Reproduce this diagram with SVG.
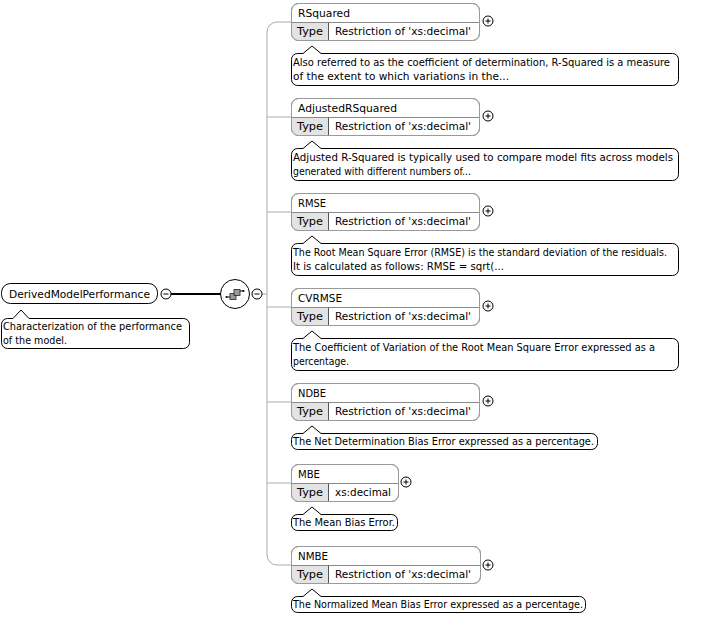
<svg xmlns="http://www.w3.org/2000/svg" width="701" height="620" viewBox="0 0 701 620">
<defs>
<style>
text{font-family:"DejaVu Sans","Liberation Sans",Arial,sans-serif;font-size:10.5px;fill:#000}
.box{fill:#fff;stroke:#9a9a9a;stroke-width:1}
.ol{fill:none;stroke:#9a9a9a;stroke-width:1}
.tcell{fill:#e3e3e3;stroke:none}
.sep{stroke:#8a8a8a;stroke-width:1}
.div{stroke:#555;stroke-width:1}
.doc{fill:#fff;stroke:#000;stroke-width:1}
.conn{fill:none;stroke:#aaaaaa;stroke-width:1}
.pm{fill:#fff;stroke:#000;stroke-width:1}
.pml{stroke:#000;stroke-width:1}
</style>
<g id="plus"><circle class="pm" cx="0" cy="0" r="5"/><line class="pml" x1="-2.5" y1="0" x2="2.5" y2="0"/><line class="pml" x1="0" y1="-2.5" x2="0" y2="2.5"/></g>
<g id="minus"><circle class="pm" cx="0" cy="0" r="5"/><line class="pml" x1="-2.5" y1="0" x2="2.5" y2="0"/></g>
</defs>
<rect width="701" height="620" fill="#fff"/>

<g id="connectors">
<line x1="171" y1="294" x2="221" y2="294" stroke="#000" stroke-width="2"/>
<line class="conn" x1="262" y1="294" x2="267" y2="294"/>
<path class="conn" d="M291 22 H277 A10 10 0 0 0 267 32 V555 A10 10 0 0 0 277 565 H291"/>
<line class="conn" x1="267" y1="117" x2="291" y2="117"/>
<line class="conn" x1="267" y1="212" x2="291" y2="212"/>
<line class="conn" x1="267" y1="307" x2="291" y2="307"/>
<line class="conn" x1="267" y1="402" x2="291" y2="402"/>
<line class="conn" x1="267" y1="483" x2="291" y2="483"/>
</g>

<g id="root">
<rect x="1.5" y="283.5" width="156" height="20" rx="9" fill="#fff" stroke="#000"/>
<text x="9" y="298" textLength="141" lengthAdjust="spacingAndGlyphs">DerivedModelPerformance</text>
<use href="#minus" x="166" y="294"/>
<path class="doc" d="M7.5 318.5 H13 L21 310 L29 318.5 H183.5 A6 6 0 0 1 189.5 324.5 V342.5 A6 6 0 0 1 183.5 348.5 H7.5 A6 6 0 0 1 1.5 342.5 V324.5 A6 6 0 0 1 7.5 318.5 Z"/>
<text x="3" y="330" textLength="179" lengthAdjust="spacingAndGlyphs">Characterization of the performance</text>
<text x="3" y="344" textLength="64" lengthAdjust="spacingAndGlyphs">of the model.</text>
</g>

<g id="sequence">
<circle cx="235" cy="294" r="14.5" fill="#fff" stroke="#000"/>
<line x1="227" y1="297" x2="230" y2="297" stroke="#000"/>
<circle cx="226.5" cy="297" r="1" fill="#000"/>
<rect x="230" y="293.5" width="6" height="6" fill="#9a9a9a" stroke="#222" stroke-width="0.8"/>
<rect x="234" y="289.5" width="6" height="6" fill="#9a9a9a" stroke="#222" stroke-width="0.8"/>
<line x1="240" y1="291" x2="243" y2="291" stroke="#000"/>
<circle cx="243.5" cy="291" r="1" fill="#000"/>
<use href="#minus" x="257" y="294"/>
</g>

<g id="RSquared">
<rect class="box" x="291.5" y="3.5" width="188" height="37" rx="7"/>
<path class="tcell" d="M292 22.5 H328 V40 H298.5 A6.5 6.5 0 0 1 292 33.5 Z"/>
<line class="sep" x1="291.5" y1="22.5" x2="479.5" y2="22.5"/>
<line class="div" x1="328.5" y1="22.5" x2="328.5" y2="40.5"/>
<rect class="ol" x="291.5" y="3.5" width="188" height="37" rx="7"/>
<text x="298" y="17" textLength="52" lengthAdjust="spacingAndGlyphs">RSquared</text>
<text x="297" y="35" textLength="26" lengthAdjust="spacingAndGlyphs">Type</text>
<text x="335" y="35" textLength="136" lengthAdjust="spacingAndGlyphs">Restriction of 'xs:decimal'</text>
<use href="#plus" x="488" y="21"/>
<path class="doc" d="M297.5 53.5 H303 L312 46 L321 53.5 H672.5 A6 6 0 0 1 678.5 59.5 V79.5 A6 6 0 0 1 672.5 85.5 H297.5 A6 6 0 0 1 291.5 79.5 V59.5 A6 6 0 0 1 297.5 53.5 Z"/>
<text x="293" y="66" textLength="377" lengthAdjust="spacingAndGlyphs">Also referred to as the coefficient of determination, R-Squared is a measure</text>
<text x="293" y="80" textLength="216" lengthAdjust="spacingAndGlyphs">of the extent to which variations in the...</text>
</g>

<g id="AdjustedRSquared">
<rect class="box" x="291.5" y="98.5" width="188" height="37" rx="7"/>
<path class="tcell" d="M292 117.5 H328 V135 H298.5 A6.5 6.5 0 0 1 292 128.5 Z"/>
<line class="sep" x1="291.5" y1="117.5" x2="479.5" y2="117.5"/>
<line class="div" x1="328.5" y1="117.5" x2="328.5" y2="135.5"/>
<rect class="ol" x="291.5" y="98.5" width="188" height="37" rx="7"/>
<text x="298" y="112" textLength="99" lengthAdjust="spacingAndGlyphs">AdjustedRSquared</text>
<text x="297" y="130" textLength="26" lengthAdjust="spacingAndGlyphs">Type</text>
<text x="335" y="130" textLength="136" lengthAdjust="spacingAndGlyphs">Restriction of 'xs:decimal'</text>
<use href="#plus" x="488" y="116"/>
<path class="doc" d="M297.5 148.5 H303 L312 141 L321 148.5 H672.5 A6 6 0 0 1 678.5 154.5 V174.5 A6 6 0 0 1 672.5 180.5 H297.5 A6 6 0 0 1 291.5 174.5 V154.5 A6 6 0 0 1 297.5 148.5 Z"/>
<text x="293" y="161" textLength="380" lengthAdjust="spacingAndGlyphs">Adjusted R-Squared is typically used to compare model fits across models</text>
<text x="293" y="175" textLength="178" lengthAdjust="spacingAndGlyphs">generated with different numbers of...</text>
</g>

<g id="RMSE">
<rect class="box" x="291.5" y="193.5" width="188" height="37" rx="7"/>
<path class="tcell" d="M292 212.5 H328 V230 H298.5 A6.5 6.5 0 0 1 292 223.5 Z"/>
<line class="sep" x1="291.5" y1="212.5" x2="479.5" y2="212.5"/>
<line class="div" x1="328.5" y1="212.5" x2="328.5" y2="230.5"/>
<rect class="ol" x="291.5" y="193.5" width="188" height="37" rx="7"/>
<text x="298" y="207" textLength="28" lengthAdjust="spacingAndGlyphs">RMSE</text>
<text x="297" y="225" textLength="26" lengthAdjust="spacingAndGlyphs">Type</text>
<text x="335" y="225" textLength="136" lengthAdjust="spacingAndGlyphs">Restriction of 'xs:decimal'</text>
<use href="#plus" x="488" y="211"/>
<path class="doc" d="M297.5 243.5 H303 L312 236 L321 243.5 H672.5 A6 6 0 0 1 678.5 249.5 V269.5 A6 6 0 0 1 672.5 275.5 H297.5 A6 6 0 0 1 291.5 269.5 V249.5 A6 6 0 0 1 297.5 243.5 Z"/>
<text x="293" y="256" textLength="374" lengthAdjust="spacingAndGlyphs">The Root Mean Square Error (RMSE) is the standard deviation of the residuals.</text>
<text x="293" y="270" textLength="211" lengthAdjust="spacingAndGlyphs">It is calculated as follows: RMSE = sqrt(...</text>
</g>

<g id="CVRMSE">
<rect class="box" x="291.5" y="288.5" width="188" height="37" rx="7"/>
<path class="tcell" d="M292 307.5 H328 V325 H298.5 A6.5 6.5 0 0 1 292 318.5 Z"/>
<line class="sep" x1="291.5" y1="307.5" x2="479.5" y2="307.5"/>
<line class="div" x1="328.5" y1="307.5" x2="328.5" y2="325.5"/>
<rect class="ol" x="291.5" y="288.5" width="188" height="37" rx="7"/>
<text x="298" y="302" textLength="44" lengthAdjust="spacingAndGlyphs">CVRMSE</text>
<text x="297" y="320" textLength="26" lengthAdjust="spacingAndGlyphs">Type</text>
<text x="335" y="320" textLength="136" lengthAdjust="spacingAndGlyphs">Restriction of 'xs:decimal'</text>
<use href="#plus" x="488" y="306"/>
<path class="doc" d="M297.5 338.5 H303 L312 331 L321 338.5 H672.5 A6 6 0 0 1 678.5 344.5 V364.5 A6 6 0 0 1 672.5 370.5 H297.5 A6 6 0 0 1 291.5 364.5 V344.5 A6 6 0 0 1 297.5 338.5 Z"/>
<text x="293" y="351" textLength="362" lengthAdjust="spacingAndGlyphs">The Coefficient of Variation of the Root Mean Square Error expressed as a</text>
<text x="293" y="365" textLength="56" lengthAdjust="spacingAndGlyphs">percentage.</text>
</g>

<g id="NDBE">
<rect class="box" x="291.5" y="383.5" width="188" height="37" rx="7"/>
<path class="tcell" d="M292 402.5 H328 V420 H298.5 A6.5 6.5 0 0 1 292 413.5 Z"/>
<line class="sep" x1="291.5" y1="402.5" x2="479.5" y2="402.5"/>
<line class="div" x1="328.5" y1="402.5" x2="328.5" y2="420.5"/>
<rect class="ol" x="291.5" y="383.5" width="188" height="37" rx="7"/>
<text x="298" y="397" textLength="28" lengthAdjust="spacingAndGlyphs">NDBE</text>
<text x="297" y="415" textLength="26" lengthAdjust="spacingAndGlyphs">Type</text>
<text x="335" y="415" textLength="136" lengthAdjust="spacingAndGlyphs">Restriction of 'xs:decimal'</text>
<use href="#plus" x="488" y="401"/>
<path class="doc" d="M297.5 433.5 H303 L312 426 L321 433.5 H591.5 A6 6 0 0 1 597.5 439.5 V443.5 A6 6 0 0 1 591.5 449.5 H297.5 A6 6 0 0 1 291.5 443.5 V439.5 A6 6 0 0 1 297.5 433.5 Z"/>
<text x="293" y="445" textLength="301" lengthAdjust="spacingAndGlyphs">The Net Determination Bias Error expressed as a percentage.</text>
</g>

<g id="MBE">
<rect class="box" x="291.5" y="464.5" width="107" height="37" rx="7"/>
<path class="tcell" d="M292 483.5 H328 V501 H298.5 A6.5 6.5 0 0 1 292 494.5 Z"/>
<line class="sep" x1="291.5" y1="483.5" x2="398.5" y2="483.5"/>
<line class="div" x1="328.5" y1="483.5" x2="328.5" y2="501.5"/>
<rect class="ol" x="291.5" y="464.5" width="107" height="37" rx="7"/>
<text x="298" y="478" textLength="22" lengthAdjust="spacingAndGlyphs">MBE</text>
<text x="297" y="496" textLength="26" lengthAdjust="spacingAndGlyphs">Type</text>
<text x="335" y="496" textLength="56" lengthAdjust="spacingAndGlyphs">xs:decimal</text>
<use href="#plus" x="406" y="482"/>
<path class="doc" d="M297.5 514.5 H303 L312 507 L321 514.5 H391.5 A6 6 0 0 1 397.5 520.5 V524.5 A6 6 0 0 1 391.5 530.5 H297.5 A6 6 0 0 1 291.5 524.5 V520.5 A6 6 0 0 1 297.5 514.5 Z"/>
<text x="293" y="526" textLength="102" lengthAdjust="spacingAndGlyphs">The Mean Bias Error.</text>
</g>

<g id="NMBE">
<rect class="box" x="291.5" y="546.5" width="189" height="37" rx="7"/>
<path class="tcell" d="M292 565.5 H328 V583 H298.5 A6.5 6.5 0 0 1 292 576.5 Z"/>
<line class="sep" x1="291.5" y1="565.5" x2="480.5" y2="565.5"/>
<line class="div" x1="328.5" y1="565.5" x2="328.5" y2="583.5"/>
<rect class="ol" x="291.5" y="546.5" width="189" height="37" rx="7"/>
<text x="298" y="560" textLength="30" lengthAdjust="spacingAndGlyphs">NMBE</text>
<text x="297" y="578" textLength="26" lengthAdjust="spacingAndGlyphs">Type</text>
<text x="335" y="578" textLength="136" lengthAdjust="spacingAndGlyphs">Restriction of 'xs:decimal'</text>
<use href="#plus" x="488" y="565"/>
<path class="doc" d="M297.5 596.5 H303 L312 589 L321 596.5 H579.5 A6 6 0 0 1 585.5 602.5 V606.5 A6 6 0 0 1 579.5 612.5 H297.5 A6 6 0 0 1 291.5 606.5 V602.5 A6 6 0 0 1 297.5 596.5 Z"/>
<text x="293" y="608" textLength="290" lengthAdjust="spacingAndGlyphs">The Normalized Mean Bias Error expressed as a percentage.</text>
</g>
</svg>
